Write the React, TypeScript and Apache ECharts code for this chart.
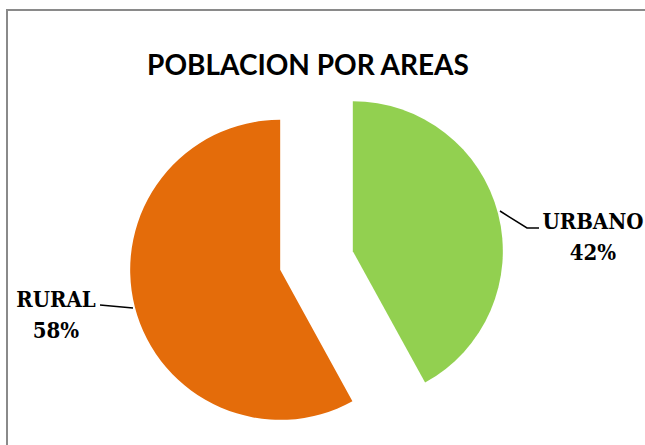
import React, { useEffect, useRef } from "react";
import * as echarts from "echarts";

const categories = ["URBANO", "RURAL"];
const values = [42, 58];
const colors = ["#92D050", "#E46C0A"];
const titleText = "POBLACION POR AREAS";

export default function App() {
  const ref = useRef<HTMLDivElement>(null);
  useEffect(() => {
    if (!ref.current) return;
    const chart = echarts.init(ref.current, null, { renderer: "svg" });
    const total = values.reduce((a, b) => a + b, 0);
    const labelPos = [
      { x: 593, y: 236, line: [[500, 211], [527, 228], [539, 228]] },
      { x: 56, y: 314, line: [[133, 308], [100, 305]] },
    ];
    const labelFont = {
      fontFamily: "DejaVu Serif Condensed, DejaVu Serif",
      fontWeight: "bold",
      fontSize: 22,
      lineHeight: 31,
      fill: "#000",
    };
    const graphics: any[] = [
      {
        type: "rect",
        shape: { x: 7, y: 10, width: 700, height: 500 },
        style: { fill: "none", stroke: "#8a8a8a", lineWidth: 2 },
        silent: true,
      },
    ];
    categories.forEach((c, i) => {
      const p = labelPos[i];
      graphics.push({
        type: "polyline",
        shape: { points: p.line },
        style: { stroke: "#000", lineWidth: 1.5, fill: "none" },
        silent: true,
      });
      graphics.push({
        type: "text",
        x: p.x,
        y: p.y,
        style: {
          ...labelFont,
          text: c + "\n" + Math.round((values[i] / total) * 100) + "%",
          align: "center",
          verticalAlign: "middle",
        },
        silent: true,
      });
    });
    chart.setOption({
      animation: false,
      backgroundColor: "#ffffff",
      title: {
        text: titleText,
        left: 303,
        top: 45,
        textAlign: "center",
        textStyle: { fontFamily: "Lato", fontWeight: "bold", fontSize: 28, color: "#000" },
      },
      graphic: graphics,
      series: [
        {
          type: "pie",
          center: [316.5, 260.5],
          radius: 150,
          startAngle: 90,
          clockwise: true,
          selectedMode: "multiple",
          selectedOffset: 37.5,
          emphasis: { disabled: true },
          data: categories.map((c, i) => ({
            name: c,
            value: values[i],
            selected: true,
            itemStyle: { color: colors[i] },
          })),
          label: { show: false },
          labelLine: { show: false },
        },
      ],
    });
    return () => chart.dispose();
  }, []);
  return (
    <div
      ref={ref}
      style={{ position: "absolute", left: 0, top: 0, width: 645, height: 445 }}
    />
  );
}
